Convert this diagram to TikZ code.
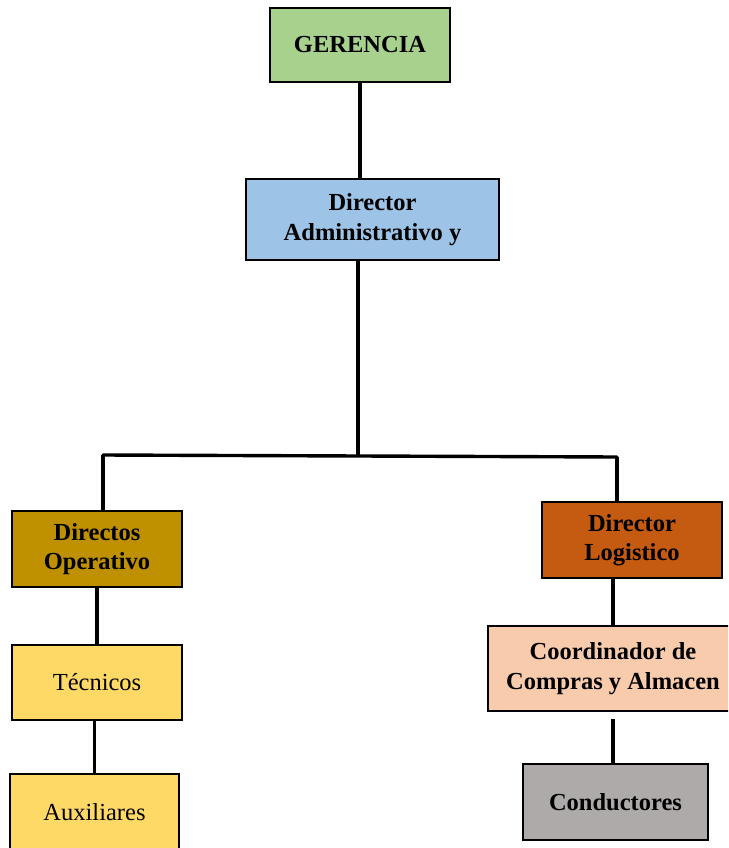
\documentclass[tikz,border=0pt]{standalone}
\usepackage{fontspec}
\setmainfont{Liberation Serif}
\begin{document}
\begin{tikzpicture}[x=1pt,y=-1pt,
  box/.style={draw=black,line width=2.8pt,align=center,inner sep=2pt,
    font=\fontsize{24.5}{29.5}\selectfont\bfseries},
  plain/.style={font=\fontsize{24.5}{29.5}\selectfont},
  link/.style={line width=3.4pt}]
\useasboundingbox (0,0) rectangle (728,848);
\clip (0,0) rectangle (728,848);
\definecolor{cGer}{HTML}{A9D18E}
\definecolor{cDir}{HTML}{9DC3E6}
\definecolor{cOpe}{HTML}{BF9000}
\definecolor{cLog}{HTML}{C55A11}
\definecolor{cTec}{HTML}{FFD966}
\definecolor{cCoo}{HTML}{F8CBAD}
\definecolor{cCon}{HTML}{AEAAAA}

% boxes
\node[box,fill=cGer,minimum width=180pt,minimum height=74pt] (ger) at (360,45) {GERENCIA};
\node[box,fill=cDir,minimum width=253pt,minimum height=81pt] (dir) at (372.5,219.5) {Director\\Administrativo y};
\node[box,fill=cOpe,minimum width=170pt,minimum height=76pt] (ope) at (97,549) {Directos\\Operativo};
\node[box,fill=cLog,minimum width=180pt,minimum height=76pt] (log) at (632,540) {Director\\Logistico};
\node[box,plain,fill=cTec,minimum width=170pt,minimum height=75pt] (tec) at (97,682.5) {Técnicos};
\node[box,plain,fill=cTec,minimum width=169pt,minimum height=76pt] (aux) at (94.5,812) {Auxiliares};
\node[box,fill=cCoo,minimum width=250pt,minimum height=85pt] (coo) at (613,668.5) {Coordinador de\\Compras y Almacen};
\node[box,fill=cCon,minimum width=185pt,minimum height=76pt] (con) at (615.5,802) {Conductores};

% bus coordinates
\coordinate (j) at (358,456);
\coordinate (bl) at (103,455);
\coordinate (br) at (617,457);

% connectors
\draw[link] (ger.south) -- (ger.south |- dir.north);
\draw[link] (dir.south -| j) -- (j);
\draw[link,line cap=round] (bl) -- (br);
\draw[link] (bl) -- (bl |- ope.north);
\draw[link] (br) -- (br |- log.north);
\draw[link] (ope.south) -- (tec.north);
\draw[link] (tec.south -| aux.north) -- (aux.north);
\draw[link] (coo.north |- log.south) -- (coo.north);
\draw[link,shorten <=7pt] (coo.south) -- (coo.south |- con.north);
\end{tikzpicture}
\end{document}
